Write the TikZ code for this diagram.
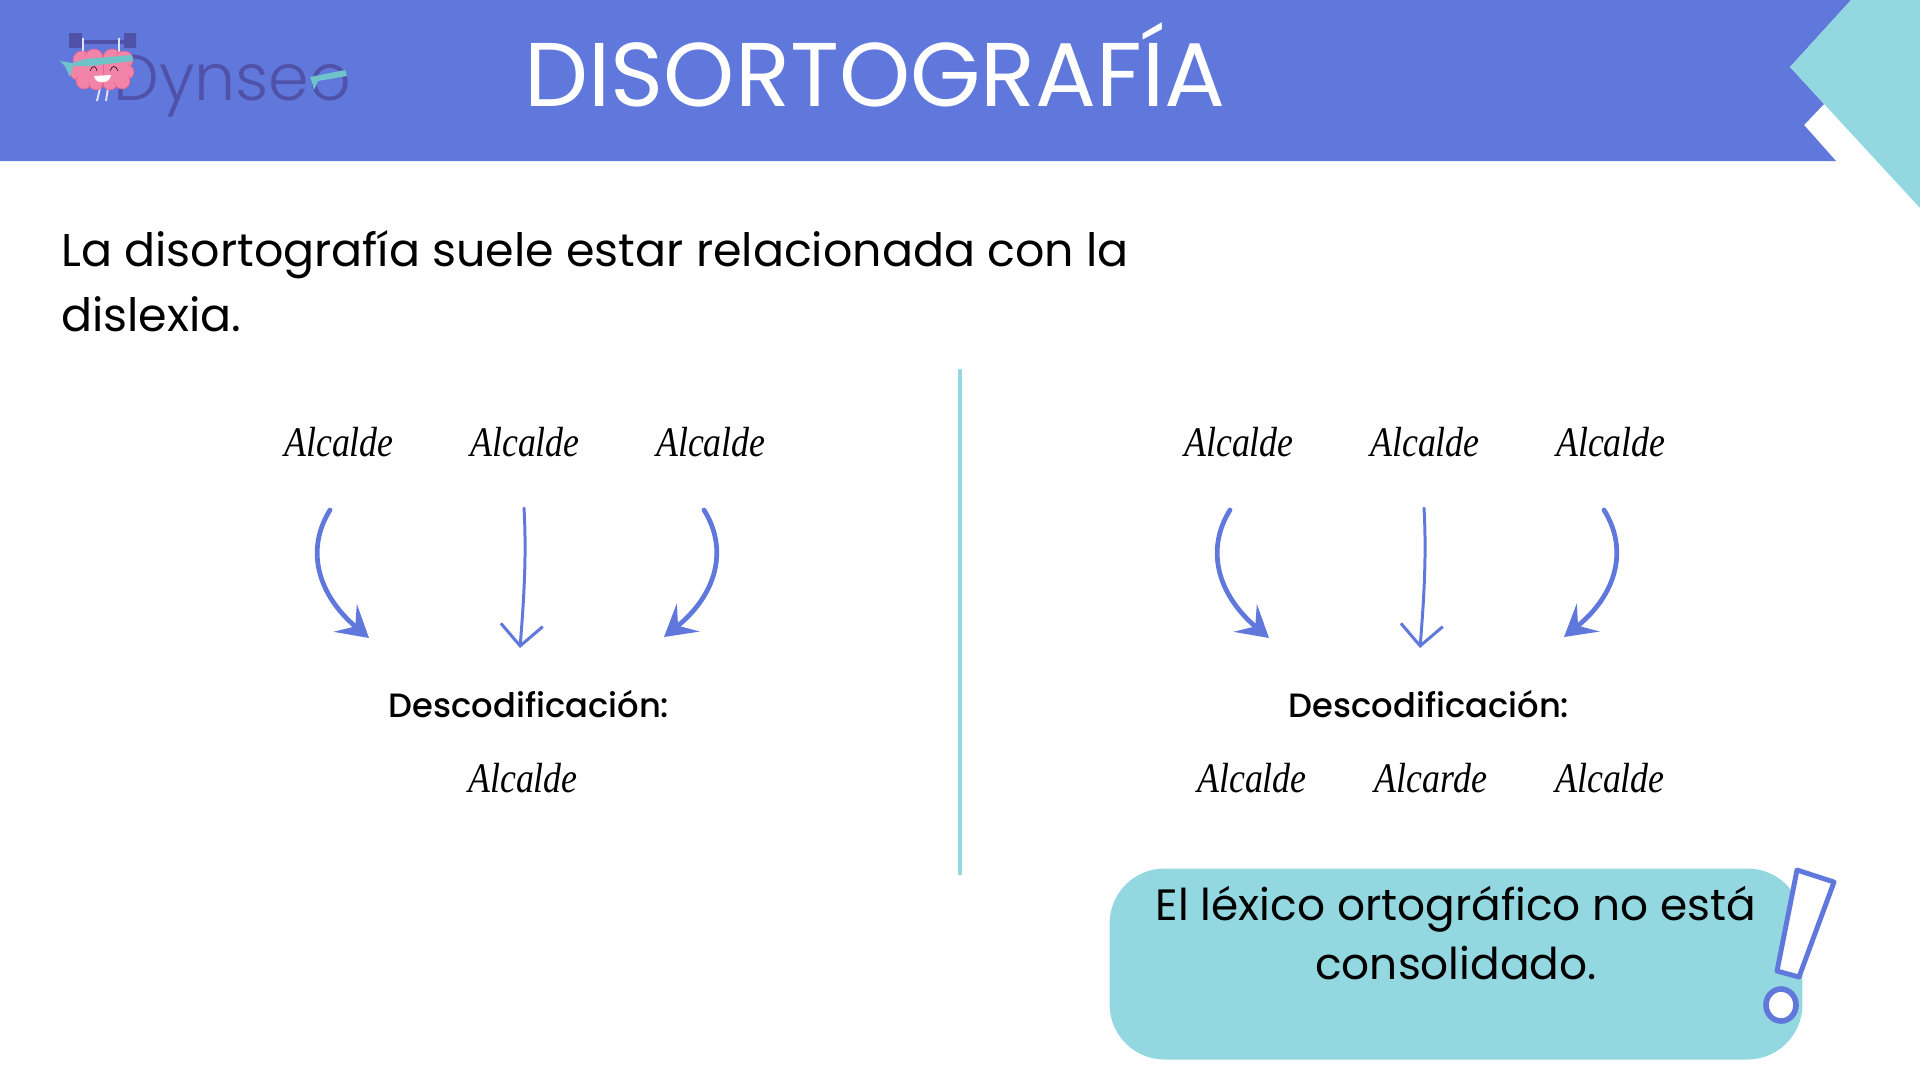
\documentclass[tikz,border=0pt]{standalone}
\usepackage{fontspec}
\setmainfont{Poppins}
\newfontfamily\wordfont[FakeStretch=0.85]{Liberation Serif}
\newfontfamily\logofont{Poppins Light}
\newfontfamily\decfont{Poppins Medium}
\usepackage{tikz}
\usetikzlibrary{arrows.meta}
\definecolor{bandblue}{HTML}{6078DC}
\definecolor{softteal}{HTML}{93D7E0}
\definecolor{logoblue}{HTML}{4F52A8}
\definecolor{brainpink}{HTML}{F184A8}
\definecolor{brainedge}{HTML}{E8608C}
\definecolor{bandteal}{HTML}{6FC4C9}
\tikzstyle{word} = [font=\wordfont\itshape\fontsize{24}{24}\selectfont, text=black, inner sep=0pt]
\tikzstyle{decode} = [font=\decfont\fontsize{19.2}{19.2}\selectfont, text=black, inner sep=0pt]
\tikzstyle{bigline} = [font=\fontsize{26.15}{37}\selectfont, text=black, inner sep=0pt, align=left, anchor=north west]
\tikzstyle{note} = [rectangle, rounded corners=1.1cm, minimum width=13.86cm, minimum height=3.82cm, fill=softteal, inner sep=0pt]
\tikzstyle{sidearrow} = [bandblue, line width=2.7pt, line cap=round, -{Stealth[length=0.62cm, width=0.72cm, inset=0.26cm]}]
\tikzstyle{midarrow} = [bandblue, line width=1.7pt, line cap=round, -{Straight Barb[length=0.42cm, width=0.84cm]}]

\begin{document}
\begin{tikzpicture}[x=0.02cm, y=-0.02cm, node distance=3.72cm]
\useasboundingbox (0,0) rectangle (1920,1080);
% header
\fill [bandblue] (0,0) -- (1851,0) -- (1790,67) -- (1824,104) -- (1804,125) -- (1836,161) -- (0,161) -- cycle;
\fill [softteal] (1851,0) -- (1790,67) -- (1920,208) -- (1920,0) -- cycle;
\node (title) [font=\fontsize{51.5}{51.5}\selectfont, text=white, inner sep=0pt, anchor=base] at (875,106) {DISORTOGRAFÍA};
% logo
\node (logo) [font=\logofont\fontsize{37}{37}\selectfont, text=logoblue, inner sep=0pt, anchor=base west] at (113,100) {Dynseo};
\fill [logoblue] (69,33) rectangle (82,48) (124,33) rectangle (136,48) (82,40) rectangle (124,44);
\draw [white!80!bandblue, line width=1.1pt] (83,38) -- (83,58) (119,38) -- (119,58) (100,88) -- (97,101) (108,88) -- (106,101);
\foreach \px/\py/\pr in {82/60/9,94/58/9,112/58/9,124/60/9,78/72/8,127/72/7,84/81/8,96/83/7,110/83/7,122/81/8}
  \fill [brainpink, draw=brainedge, line width=0.3pt] (\px,\py) circle (\pr);
\fill [brainpink] (78,58) rectangle (128,82);
\draw [brainedge, line width=0.4pt] (103,56) -- (103,88);
\fill [bandteal] (60,61) -- (72,63) -- (85,59) -- (132,55) -- (133,61) -- (90,66) -- (73,66) -- (70,77) -- (65,66) -- cycle;
\fill [white] (94,76) -- (111,75) .. controls (111,83) and (96,86) .. (94,76);
\draw [black, line width=0.3pt] (90,71) .. controls (92,65) and (96,65) .. (97,71) (110,71) .. controls (112,65) and (116,65) .. (118,71);
\fill [bandteal] (310,77) -- (345,70) -- (347,76) -- (318,81) -- (314,90) -- (312,82) -- cycle;
% intro text
\node (intro) [bigline] at (61,230) {La disortografía suele estar relacionada con la\\dislexia.};
% left side
\node (wordA) [word] at (339,442) {Alcalde};
\node (wordB) [word, right of=wordA] {Alcalde};
\node (wordC) [word, right of=wordB] {Alcalde};
\node (decA) [decode] at (529,704) {Descodificación:};
\node (outA) [word] at (523,778) {Alcalde};
\coordinate (fromA) at (330,510);
\coordinate (toA) at (369,638);
\coordinate (fromB) at (524,508);
\coordinate (toB) at (520,648);
\coordinate (fromC) at (704,510);
\coordinate (toC) at (664,637);
\draw [sidearrow] (fromA) .. controls (305,550) and (318,595) .. (toA);
\draw [midarrow] (fromB) .. controls (527,560) and (523,610) .. (toB);
\draw [sidearrow] (fromC) .. controls (729,550) and (716,595) .. (toC);
% divider
\coordinate (divTop) at (960,369);
\coordinate (divEnd) at (960,875);
\draw [softteal, line width=2.3pt] (divTop) -- (divEnd);
% right side
\node (wordD) [word] at (1239,442) {Alcalde};
\node (wordE) [word, right of=wordD] {Alcalde};
\node (wordF) [word, right of=wordE] {Alcalde};
\node (decB) [decode] at (1429,704) {Descodificación:};
\node (outD) [word] at (1252,778) {Alcalde};
\node (outE) [word] at (1431,778) {Alcarde};
\node (outF) [word] at (1610,778) {Alcalde};
\coordinate (fromD) at (1230,510);
\coordinate (toD) at (1269,638);
\coordinate (fromE) at (1424,508);
\coordinate (toE) at (1420,648);
\coordinate (fromF) at (1604,510);
\coordinate (toF) at (1564,637);
\draw [sidearrow] (fromD) .. controls (1205,550) and (1218,595) .. (toD);
\draw [midarrow] (fromE) .. controls (1427,560) and (1423,610) .. (toE);
\draw [sidearrow] (fromF) .. controls (1629,550) and (1616,595) .. (toF);
% note
\node (noteBox) [note] at (1456,964) {};
\node (noteText) [font=\fontsize{24.95}{33.5}\selectfont, text=black, inner sep=0pt, align=center] at (1456,933) {El léxico ortográfico no está\\consolidado.};
% exclamation mark
\fill [white] (1796,868) -- (1835,882) -- (1799,978) -- (1778,972) -- cycle;
\draw [bandblue, line width=2.8pt, line join=round] (1797,870) -- (1834,882) -- (1799,977) -- (1777,971) -- cycle;
\fill [white, draw=bandblue, line width=3.2pt] (1781,1005) ellipse (15 and 16);
\end{tikzpicture}
\end{document}
